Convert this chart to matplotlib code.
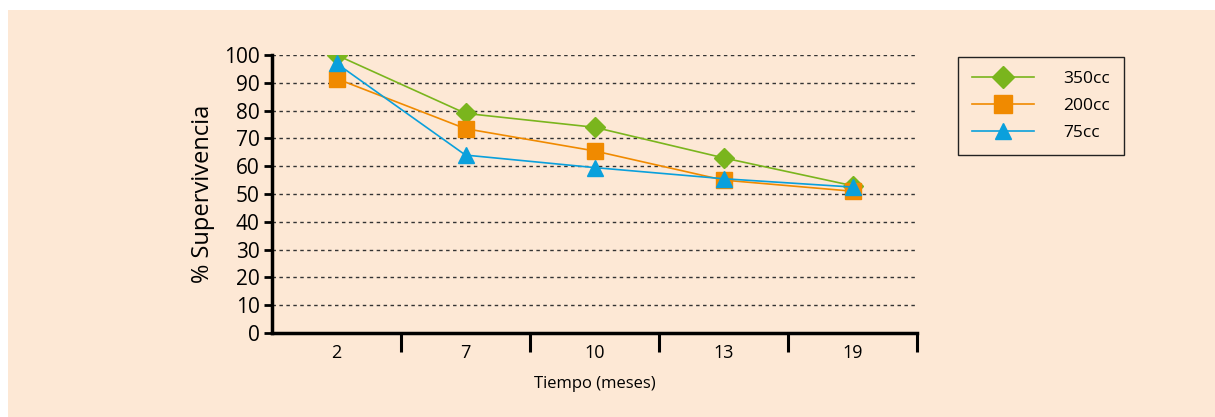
import matplotlib
matplotlib.use("Agg")
import matplotlib.pyplot as plt
from matplotlib.patches import Rectangle

categories = ["2", "7", "10", "13", "19"]
s350 = [100, 79, 74, 63, 53]
s200 = [91.5, 73.5, 65.5, 55, 51]
s75 = [97, 64, 59.5, 55.5, 52.5]
yticks = list(range(0, 101, 10))

plt.rcParams['font.family'] = ['Open Sans', 'DejaVu Sans']

W, H = 1215, 417
fig = plt.figure(figsize=(W / 100, H / 100), dpi=100)
fig.patch.set_facecolor("white")
bg = "#fde8d5"
fig.patches.append(Rectangle((8 / W, 0), 1 - 8 / W, 1 - 10 / H, transform=fig.transFigure,
                             facecolor=bg, edgecolor="none", zorder=-10))

ax = fig.add_axes([272 / W, 1 - 333 / H, (917 - 272) / W, (333 - 55) / H])
ax.set_facecolor(bg)
ax.patch.set_alpha(0)

x = list(range(len(categories)))
ax.plot(x, s350, color="#7ab51d", lw=1.2, marker="D", ms=10, mfc="#7ab51d", mec="#7ab51d", label="350cc", zorder=3)
ax.plot(x, s200, color="#f08a00", lw=1.2, marker="s", ms=12, mfc="#f08a00", mec="#f08a00", label="200cc", zorder=4)
ax.plot(x, s75, color="#0aa0dc", lw=1.2, marker="^", ms=11, mfc="#0aa0dc", mec="#0aa0dc", label="75cc", zorder=5)

ax.set_xlim(-0.5, len(categories) - 0.5)
ax.set_ylim(0, 100)
ax.set_yticks(yticks)
ax.set_yticklabels([str(v) for v in yticks], fontsize=15)
for v in yticks[1:]:
    ax.axhline(v, color="#333333", lw=1.0, ls=(0, (2.5, 2.5)), zorder=1)

ax.set_xticks(x)
ax.set_xticklabels(categories, fontsize=13)
ax.tick_params(axis="x", length=0, pad=8)
ax.set_xticks([i + 0.5 for i in x], minor=True)
ax.tick_params(axis="x", which="minor", length=14, width=2.2, direction="out", color="black")
ax.tick_params(axis="y", length=6, width=2, direction="out", pad=3)

for s in ["top", "right"]:
    ax.spines[s].set_visible(False)
ax.spines["left"].set_linewidth(2.5)
ax.spines["bottom"].set_linewidth(2.5)

ax.set_ylabel("% Supervivencia", fontsize=17, labelpad=6)
ax.set_xlabel("Tiempo (meses)", fontsize=12, labelpad=10)

leg = fig.legend(loc="upper left", bbox_to_anchor=(958 / W, 1 - 57 / H), frameon=True,
                 fontsize=12.5, fancybox=False, edgecolor="#222222", facecolor=bg,
                 handlelength=3.6, borderpad=0.8, labelspacing=0.62, handletextpad=1.65,
                 borderaxespad=0, markerscale=1.1)
leg.get_frame().set_linewidth(1.0)
leg.get_frame().set_alpha(1)

fig.savefig("out.png", dpi=100, facecolor=fig.get_facecolor())
